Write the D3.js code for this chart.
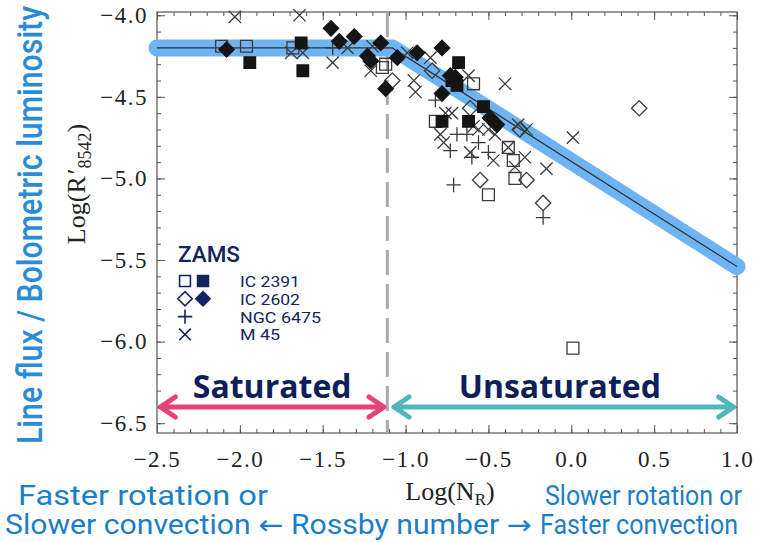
<!DOCTYPE html>
<html>
<head>
<meta charset="utf-8">
<script src="https://cdn.jsdelivr.net/npm/d3@7"></script>
<style>
  body { margin: 0; background: #fff; }
  .tick-label { font-family: "Liberation Serif", "Times New Roman", serif; font-size: 23px; fill: #222; }
  .narrow { font-family: Roboto, "Liberation Sans", sans-serif; }
</style>
</head>
<body>
<svg id="chart-area"></svg>
<script>
// Data: [log N_R, log R'8542]
const ic2391Open = [
  [-2.11, -4.19], [-1.96, -4.19], [-1.68, -4.20], [-1.14, -4.32], [-1.12, -4.30],
  [-0.59, -4.42], [-0.82, -4.65], [-0.38, -4.81], [-0.35, -4.89], [-0.34, -5.00],
  [-0.50, -5.10], [0.01, -6.04]
];
const ic2391Filled = [
  [-1.94, -4.29], [-1.63, -4.17], [-1.62, -4.34], [-0.68, -4.29], [-0.72, -4.40],
  [-0.69, -4.43], [-0.78, -4.65], [-0.62, -4.65], [-0.53, -4.56]
];
const ic2602Open = [
  [-1.08, -4.40], [-0.84, -4.34], [-0.61, -4.57], [-0.31, -4.70], [-0.55, -5.01],
  [-0.27, -5.01], [-0.17, -5.15], [0.41, -4.57]
];
const ic2602Filled = [
  [-2.08, -4.21], [-1.45, -4.08], [-1.40, -4.16], [-1.31, -4.13], [-1.15, -4.17],
  [-1.23, -4.25], [-1.21, -4.28], [-1.12, -4.45], [-1.05, -4.26], [-0.93, -4.23],
  [-0.78, -4.20], [-0.70, -4.38], [-0.73, -4.37], [-0.78, -4.48], [-0.49, -4.63],
  [-0.45, -4.67]
];
const ngc6475 = [
  [-1.44, -4.20], [-0.82, -4.52], [-0.69, -4.73], [-0.73, -4.83], [-0.63, -4.73],
  [-0.56, -4.78], [-0.60, -4.87], [-0.50, -4.84], [-0.71, -5.04], [-0.17, -5.24]
];
const m45 = [
  [-2.03, -4.01], [-1.64, -4.00], [-1.69, -4.23], [-1.62, -4.23], [-1.44, -4.29],
  [-1.35, -4.20], [-1.20, -4.19], [-1.21, -4.34], [-0.99, -4.23], [-0.85, -4.26],
  [-0.95, -4.40], [-0.94, -4.47], [-0.62, -4.37], [-0.40, -4.42], [-0.76, -4.60],
  [-0.72, -4.60], [-0.79, -4.73], [-0.77, -4.78], [-0.59, -4.68], [-0.56, -4.70],
  [-0.50, -4.70], [-0.46, -4.73], [-0.61, -4.84], [-0.47, -4.89], [-0.38, -4.81],
  [-0.34, -4.93], [-0.28, -4.87], [-0.15, -4.94], [-0.32, -4.67], [-0.27, -4.70],
  [0.01, -4.75]
];

// Saturation fit (flat, then linear decline)
const fitX = [-2.5, -1.08, 1.0];
const fitY = [-4.20, -4.20, -5.54];
const saturationLimit = -1.11;

const xTicks = [-2.5, -2.0, -1.5, -1.0, -0.5, 0.0, 0.5, 1.0];
const yTicks = [-4.0, -4.5, -5.0, -5.5, -6.0, -6.5];

const legendLabels = ["IC 2391", "IC 2602", "NGC 6475", "M 45"];
const regionLabels = ["Saturated", "Unsaturated"];
const regionBounds = [[-2.48, -1.13], [-1.07, 0.98]];

// Set dimensions
const W = 757, H = 542;
const plot = { left: 157, right: 737, top: 12, bottom: 433 };

const svg = d3.select("#chart-area")
    .attr("width", W)
    .attr("height", H);

// 1. Scales
const xScale = d3.scaleLinear().domain([-2.5, 1.0]).range([plot.left, plot.right]);
const yScale = d3.scaleLinear().domain([-6.56, -3.98]).range([plot.bottom, plot.top]);

const minorX = d3.range(-25, 11).map(d => d / 10);
const minorY = d3.range(-65, -39).map(d => d / 10);

// 2. Axes (ticks pointing inward)
const fmt = d3.format(".1f");

svg.append("g")
    .attr("transform", `translate(0,${plot.bottom})`)
    .call(d3.axisBottom(xScale).tickValues(xTicks).tickSize(-8).tickPadding(14).tickFormat(fmt))
    .call(g => g.selectAll("text").attr("class", "tick-label").attr("fill", null)
        .attr("dy", "0.85em").style("letter-spacing", "1.5px"));
svg.append("g")
    .attr("transform", `translate(0,${plot.bottom})`)
    .call(d3.axisBottom(xScale).tickValues(minorX).tickSize(-4).tickFormat(""));
svg.append("g")
    .attr("transform", `translate(0,${plot.top})`)
    .call(d3.axisTop(xScale).tickValues(xTicks).tickSize(-8).tickFormat(""));
svg.append("g")
    .attr("transform", `translate(0,${plot.top})`)
    .call(d3.axisTop(xScale).tickValues(minorX).tickSize(-4).tickFormat(""));

svg.append("g")
    .attr("transform", `translate(${plot.left},0)`)
    .call(d3.axisLeft(yScale).tickValues(yTicks).tickSize(-8).tickPadding(9).tickFormat(fmt))
    .call(g => g.selectAll("text").attr("class", "tick-label").attr("fill", null)
        .style("letter-spacing", "1.5px"));
svg.append("g")
    .attr("transform", `translate(${plot.left},0)`)
    .call(d3.axisLeft(yScale).tickValues(minorY).tickSize(-4).tickFormat(""));
svg.append("g")
    .attr("transform", `translate(${plot.right},0)`)
    .call(d3.axisRight(yScale).tickValues(yTicks).tickSize(-8).tickFormat(""));
svg.append("g")
    .attr("transform", `translate(${plot.right},0)`)
    .call(d3.axisRight(yScale).tickValues(minorY).tickSize(-4).tickFormat(""));

svg.selectAll(".domain").remove();
svg.selectAll(".tick line").attr("stroke", "#555").attr("stroke-width", 1);

svg.append("rect")
    .attr("x", plot.left).attr("y", plot.top)
    .attr("width", plot.right - plot.left).attr("height", plot.bottom - plot.top)
    .attr("fill", "none").attr("stroke", "#555").attr("stroke-width", 1.2);

// 3. Saturation limit (dashed)
svg.append("line")
    .attr("x1", xScale(saturationLimit)).attr("x2", xScale(saturationLimit))
    .attr("y1", plot.top).attr("y2", plot.bottom)
    .attr("stroke", "#aaa").attr("stroke-width", 3)
    .attr("stroke-dasharray", "25,9");

// 4. Fit band + line
const fitPts = fitX.map((x, i) => [x, fitY[i]]);
const line = d3.line().x(d => xScale(d[0])).y(d => yScale(d[1]));
svg.append("path")
    .attr("d", line(fitPts))
    .attr("fill", "none").attr("stroke", "#6eb4f2").attr("stroke-width", 17)
    .attr("stroke-linecap", "round").attr("stroke-linejoin", "round");
svg.append("path")
    .attr("d", line(fitPts))
    .attr("fill", "none").attr("stroke", "#2a2f3a").attr("stroke-width", 1.2);

// 5. Points
const sym = (type, size) => d3.symbol().type(type).size(size)();
const groups = [
  { data: m45, path: sym(d3.symbolTimes, 100), fill: "none" },
  { data: ngc6475, path: sym(d3.symbolPlus, 70), fill: "none" },
  { data: ic2391Open, path: sym(d3.symbolSquare2, 180), fill: "none" },
  { data: ic2602Open, path: sym(d3.symbolDiamond2, 150), fill: "none" },
  { data: ic2391Filled, path: sym(d3.symbolSquare2, 170), fill: "#151515" },
  { data: ic2602Filled, path: sym(d3.symbolDiamond2, 150), fill: "#151515" }
];
groups.forEach(g => {
  svg.append("g").selectAll("path")
      .data(g.data)
      .enter().append("path")
      .attr("d", g.path)
      .attr("transform", d => `translate(${xScale(d[0])},${yScale(d[1])})`)
      .attr("fill", g.fill)
      .attr("stroke", g.fill === "none" ? "#3a3a3a" : "#151515")
      .attr("stroke-width", 1.3);
});

// 6. Legend
const navy = "#14245e";
const legend = svg.append("g").attr("class", "narrow").attr("fill", navy);
legend.append("text").attr("x", 178).attr("y", 262)
    .attr("font-size", 22).attr("font-weight", 500)
    .attr("textLength", 62).attr("lengthAdjust", "spacingAndGlyphs")
    .text("ZAMS");
const legendSyms = [
  [[sym(d3.symbolSquare2, 150), "none"], [sym(d3.symbolSquare2, 150), navy]],
  [[sym(d3.symbolDiamond2, 130), "none"], [sym(d3.symbolDiamond2, 130), navy]],
  [[sym(d3.symbolPlus, 70), "none"]],
  [[sym(d3.symbolTimes, 90), "none"]]
];
const legendWidths = [60, 60, 81, 40];
legendLabels.forEach((lab, i) => {
  const y = 281 + i * 17.8;
  legendSyms[i].forEach((s, j) => {
    legend.append("path").attr("d", s[0])
        .attr("transform", `translate(${185 + j * 18},${y})`)
        .attr("fill", s[1]).attr("stroke", navy).attr("stroke-width", 1.6);
  });
  legend.append("text").attr("x", 240).attr("y", y + 6)
      .attr("font-size", 15.3)
      .attr("textLength", legendWidths[i]).attr("lengthAdjust", "spacingAndGlyphs")
      .text(lab);
});

// 7. Saturated / Unsaturated arrows
const regionColors = ["#e8407a", "#4fb7b9"];
const arrowY = 407;
regionBounds.forEach((b, i) => {
  const x1 = xScale(b[0]), x2 = xScale(b[1]);
  svg.append("path")
      .attr("d", `M${x1},${arrowY}H${x2}M${x1 + 15},${arrowY - 10}L${x1},${arrowY}L${x1 + 15},${arrowY + 10}` +
                 `M${x2 - 15},${arrowY - 10}L${x2},${arrowY}L${x2 - 15},${arrowY + 10}`)
      .attr("fill", "none").attr("stroke", regionColors[i]).attr("stroke-width", 5)
      .attr("stroke-linecap", "round").attr("stroke-linejoin", "round");
  svg.append("text")
      .attr("x", (x1 + x2) / 2 + (i === 0 ? 0 : -4)).attr("y", 398)
      .attr("text-anchor", "middle")
      .style("font-family", "'Open Sans', 'Noto Sans', sans-serif")
      .attr("font-size", 32).attr("font-weight", "bold").attr("fill", "#0f1f5a")
      .text(regionLabels[i]);
});

// 8. Axis titles
svg.append("text")
    .attr("class", "tick-label")
    .attr("transform", "translate(85,184) rotate(-90)")
    .attr("text-anchor", "middle")
    .style("font-size", "26px")
    .html("Log(R<tspan dx='2'>′</tspan><tspan font-size='18' dy='6'>8542</tspan><tspan dy='-6'>)</tspan>");

svg.append("text")
    .attr("class", "tick-label")
    .attr("x", 450).attr("y", 500)
    .attr("text-anchor", "middle")
    .style("font-size", "26px")
    .html("Log(N<tspan font-size='17' dy='5'>R</tspan><tspan dy='-5'>)</tspan>");

// condensed blue captions: horizontal squeeze via scale, exact width via textLength
const blue = "#1b7ec8";
const squeeze = 0.72;
svg.append("text")
    .attr("class", "narrow")
    .attr("transform", `translate(42,225) rotate(-90) scale(${squeeze},1)`)
    .attr("text-anchor", "middle")
    .attr("font-size", 36).attr("font-weight", 500).attr("fill", "#2a8cd8")
    .attr("textLength", 438 / squeeze).attr("lengthAdjust", "spacingAndGlyphs")
    .text("Line flux / Bolometric luminosity");

const bottomText = [
  { t: ["Faster rotation or"], x: 18, y: 505, w: 250 },
  { t: ["Slower convection ", "←", " Rossby number ", "→"], x: 5, y: 534, w: 527 },
  { t: ["Slower rotation or"], x: 545, y: 505, w: 197 },
  { t: ["Faster convection"], x: 540, y: 534, w: 198 }
];
const squeeze2 = 0.85;
bottomText.forEach(b => {
  const t = svg.append("text")
      .attr("class", "narrow")
      .attr("transform", `translate(${b.x},${b.y}) scale(${squeeze2},1)`)
      .attr("font-size", 27).attr("fill", blue)
      .attr("textLength", b.w / squeeze2).attr("lengthAdjust", "spacingAndGlyphs");
  b.t.forEach(s => {
    t.append("tspan")
        .style("font-family", s.length === 1 ? "'DejaVu Sans', sans-serif" : null)
        .text(s);
  });
});
</script>
</body>
</html>
